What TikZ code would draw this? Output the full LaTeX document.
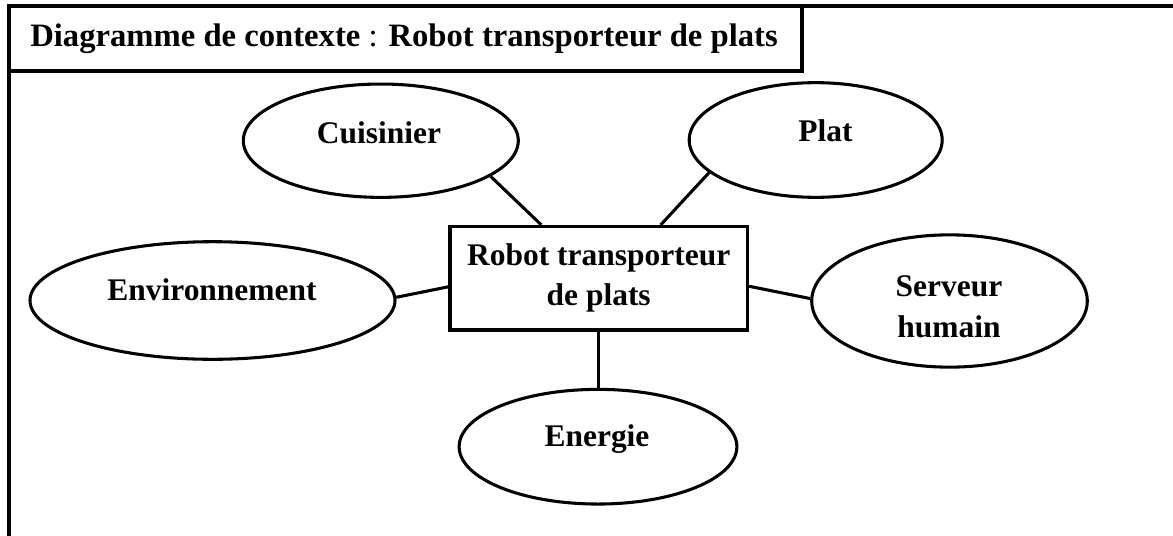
\documentclass[tikz,border=0pt]{standalone}
\usepackage{fontspec}
\setmainfont{Liberation Serif}
\usetikzlibrary{shapes.geometric,calc}
\begin{document}
\begin{tikzpicture}[x=0.75pt,y=-0.75pt,
  line join=miter,
  every node/.style={font=\bfseries\fontsize{23.6}{30}\selectfont},
  frameline/.style={line width=3pt},
  actor/.style={draw, ellipse, line width=2.3pt, inner sep=0pt},
  system/.style={draw, rectangle, line width=2.4pt, inner sep=0pt, align=center},
  caption/.style={anchor=base, inner sep=0pt},
  link/.style={line width=2.3pt},
]
\useasboundingbox (0,0) rectangle (1173,535);

% outer frame (open at right and bottom) and title box
\draw[frameline] (8.7,540) -- (8.7,6) -- (1180,6);
\draw[frameline] (8.7,6) rectangle (801.5,71);
\node[anchor=base west, inner sep=0pt, font=\mdseries\fontsize{24.5}{30}\selectfont] (title) at (30,46.7)
  {{\bfseries Diagramme de contexte} : {\bfseries Robot transporteur de plats}};

% central system
\node[system, minimum width=223.1pt, minimum height=77.6pt] (robot) at (598.75,278.25)
  {Robot transporteur\\de plats};

% external elements
\node[actor, minimum width=206.25pt, minimum height=85pt]  (cuis)  at (380.8,140.7) {};
\node[actor, minimum width=189.75pt, minimum height=86pt]  (plat)  at (815.7,140) {};
\node[actor, minimum width=273.75pt, minimum height=88.2pt] (env)  at (212.5,300.5) {};
\node[actor, minimum width=206.7pt, minimum height=99.2pt] (serv)  at (949.5,301) {};
\node[actor, minimum width=208.3pt, minimum height=86pt]  (ener)  at (598,446.7) {};

% their names
\node[caption] (cuis-t)  at (379,143)   {Cuisinier};
\node[caption] (plat-t)  at (825.5,141.7) {Plat};
\node[caption] (env-t)   at (212,300.7) {Environnement};
\node[caption] (serv-t1) at (949,296)   {Serveur};
\node[caption] (serv-t2) at (949,337.3) {humain};
\node[caption] (ener-t)  at (597,446.7) {Energie};

% links to the system
\draw[link] (cuis.-18) -- ($(robot.north west)!0.309!(robot.north east)$);
\draw[link] (plat.-163) -- ($(robot.north west)!0.706!(robot.north east)$);
\draw[link] (env.1) -- ($(robot.north west)!0.58!(robot.south west)$);
\draw[link] ($(robot.north east)!0.575!(robot.south east)$) -- (serv.179);
\draw[link] (robot.south) -- (robot.south |- ener.north);
\end{tikzpicture}
\end{document}
